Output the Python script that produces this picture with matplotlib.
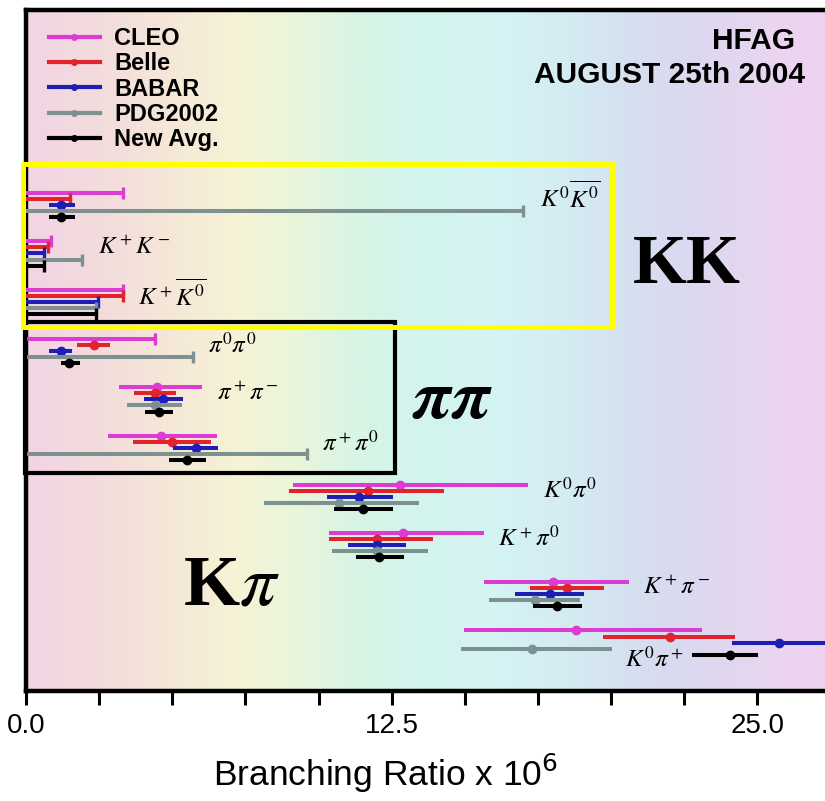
import numpy as np
import matplotlib
matplotlib.use('Agg')
import matplotlib.pyplot as plt
from matplotlib.colors import LinearSegmentedColormap
from matplotlib.patches import Rectangle
from matplotlib.lines import Line2D
from matplotlib.ticker import MultipleLocator

plt.rcParams['mathtext.fontset'] = 'stix'
plt.rcParams['font.family'] = ['Liberation Sans', 'DejaVu Sans']

nan = np.nan

# ---------------- data ----------------
decays = [r'$K^0\overline{K^0}$', r'$K^+K^-$', r'$K^+\overline{K^0}$',
          r'$\pi^0\pi^0$', r'$\pi^+\pi^-$', r'$\pi^+\pi^0$',
          r'$K^0\pi^0$', r'$K^+\pi^0$', r'$K^+\pi^-$', r'$K^0\pi^+$']
experiments = ['CLEO', 'Belle', 'BABAR', 'PDG2002', 'New Avg.']
exp_colors = ['#dc3cd2', '#e0232d', '#1e1eb4', '#7d9191', '#000000']

# central values (nan = upper limit only)
cleo_val = [nan, nan, nan, nan, 4.48, 4.6, 12.8, 12.9, 18.0, 18.8]
cleo_lo  = [nan, nan, nan, nan, 3.19, 2.81, 9.14, 10.37, 15.67, 14.98]
cleo_hi  = [nan, nan, nan, nan, 6.03, 6.53, 17.17, 15.66, 20.62, 23.1]
cleo_ul  = [3.3, 0.84, 3.3, 4.4, nan, nan, nan, nan, nan, nan]

belle_val = [nan, nan, nan, 2.33, 4.4, 5.0, 11.7, 12.0, 18.5, 22.0]
belle_lo  = [nan, nan, nan, 1.75, 3.69, 3.66, 9.0, 10.37, 17.23, 19.74]
belle_hi  = [nan, nan, nan, 2.87, 5.12, 6.34, 14.3, 13.9, 19.76, 24.24]
belle_ul  = [1.5, 0.74, 3.3, nan, nan, nan, nan, nan, nan, nan]

babar_val = [1.19, nan, nan, 1.18, 4.7, 5.8, 11.4, 12.0, 17.9, 25.75]
babar_lo  = [0.78, nan, nan, 0.8, 4.03, 5.03, 10.28, 11.02, 16.72, 24.13]
babar_hi  = [1.67, nan, nan, 1.56, 5.37, 6.56, 12.54, 13.0, 19.09, 27.4]
babar_ul  = [nan, 0.6, 2.45, nan, nan, nan, nan, nan, nan, nan]

pdg_val = [nan, nan, nan, nan, 4.4, nan, 10.7, 12.0, 17.4, 17.3]
pdg_lo  = [nan, nan, nan, nan, 3.44, nan, 8.14, 10.46, 15.84, 14.86]
pdg_hi  = [nan, nan, nan, nan, 5.35, nan, 13.45, 13.75, 18.94, 20.04]
pdg_ul  = [17.0, 1.93, 2.4, 5.7, nan, 9.6, nan, nan, nan, nan]

avg_val = [1.19, nan, nan, 1.48, 4.55, 5.52, 11.53, 12.08, 18.14, 24.07]
avg_lo  = [0.78, nan, nan, 1.19, 4.08, 4.89, 10.53, 11.28, 17.32, 22.76]
avg_hi  = [1.67, nan, nan, 1.84, 5.03, 6.16, 12.56, 12.92, 19.02, 25.04]
avg_ul  = [nan, 0.62, 2.4, nan, nan, nan, nan, nan, nan, nan]

all_val = [cleo_val, belle_val, babar_val, pdg_val, avg_val]
all_lo = [cleo_lo, belle_lo, babar_lo, pdg_lo, avg_lo]
all_hi = [cleo_hi, belle_hi, babar_hi, pdg_hi, avg_hi]
all_ul = [cleo_ul, belle_ul, babar_ul, pdg_ul, avg_ul]

xticks = [0.0, 12.5, 25.0]
xtick_labels = ['0.0', '12.5', '25.0']

# ---------------- layout ----------------
GROUP_STEP = 8          # rows per decay block
label_x = [17.57, 2.46, 3.83, 6.22, 6.53, 10.12, 17.68, 16.14, 21.1, 20.48]
label_y = [0.7, 8.93, 16.8, 25.05, 32.9, 41.2, 48.9, 56.8, 64.9, 76.7]

fig = plt.figure(figsize=(8.25, 8.01), dpi=100)
ax = fig.add_axes([26/825, (801-691)/801, 28*29.25/825, 681/801])

# pastel background gradient
stops = [(0.0, '#f2d4e4'), (0.09, '#f3dcdc'), (0.18, '#f6e8d8'), (0.26, '#f5f3d6'),
         (0.335, '#e8f6dc'), (0.40, '#d8f5e4'), (0.48, '#d3f4ee'), (0.58, '#d5f3f4'),
         (0.675, '#d4eaf2'), (0.75, '#d6deef'), (0.82, '#dcd8ef'), (0.90, '#e8d6f0'),
         (1.0, '#f2d0f2')]
cmap = LinearSegmentedColormap.from_list('bg', stops)
grad = np.linspace(0, 1, 512).reshape(1, -1)
ax.imshow(grad, extent=[0, 1, 0, 1], transform=ax.transAxes, aspect='auto',
          cmap=cmap, zorder=0, interpolation='bilinear')

LW = 2.9
for k, (name, col) in enumerate(zip(experiments, exp_colors)):
    for g in range(len(decays)):
        y = g * GROUP_STEP + k
        ul = all_ul[k][g]
        if not np.isnan(ul):
            ax.hlines(y, 0, ul, color=col, lw=LW, zorder=3 + k)
            ax.plot([ul], [y], marker='|', ms=9, mew=2.4, color=col, zorder=3 + k)
        else:
            ax.hlines(y, all_lo[k][g], all_hi[k][g], color=col, lw=LW, zorder=3 + k)
            ax.plot([all_val[k][g]], [y], marker='o', ms=6, color=col, zorder=3 + k)

for name, lx, ly in zip(decays, label_x, label_y):
    ax.text(lx, ly, name, fontsize=18, ha='left', va='center', zorder=10)

# group boxes
ax.add_patch(Rectangle((-0.04, 21.27), 12.64, 46.1 - 21.27, fill=False, ec='black',
                       lw=3.0, zorder=8, clip_on=False))
ax.add_patch(Rectangle((-0.1, -4.72), 20.13, 22.09 + 4.72, fill=False, ec='#ffff00',
                       lw=3.6, zorder=9, clip_on=False))

# group titles
ax.text(22.6, 14.85, 'KK', family='Liberation Serif', weight='bold', fontsize=50,
        ha='center', va='baseline', zorder=10)
ax.text(13.2, 37.07, r'$\boldsymbol{\pi\pi}$', fontsize=50, ha='left', va='baseline', zorder=10)
ax.text(5.37, 67.81, r'K$\mathit{\pi}$', family='Liberation Serif', weight='bold', fontsize=52,
        ha='left', va='baseline', zorder=10)

ax.text(26.29, -25.0, 'HFAG', weight='bold', fontsize=21.5, ha='right', va='center')
ax.text(26.63, -19.3, 'AUGUST 25th 2004', weight='bold', fontsize=21.5, ha='right', va='center')

handles = [Line2D([0], [0], color=c, lw=3, marker='o', ms=4) for c in exp_colors]
ax.legend(handles, experiments, loc='upper left', bbox_to_anchor=(0.028, 0.975),
          frameon=False, prop={'weight': 'bold', 'size': 17}, borderpad=0,
          borderaxespad=0, handlelength=2.15, handletextpad=0.62, labelspacing=0.1)

ax.set_xlim(0, 28)
ax.set_ylim(81.96, -30.05)
ax.set_xticks(xticks)
ax.set_xticklabels(xtick_labels)
ax.xaxis.set_minor_locator(MultipleLocator(2.5))
ax.tick_params(axis='x', which='both', length=10, width=2.2, direction='out',
               labelsize=20, pad=6)
ax.set_yticks([])
for s in ax.spines.values():
    s.set_linewidth(3.2)

fig.text(385/825, 1 - 786/801, r'Branching Ratio x 10$^6$', fontsize=25.5,
         ha='center', va='baseline', math_fontfamily='dejavusans')

fig.savefig('out.png', dpi=100)
